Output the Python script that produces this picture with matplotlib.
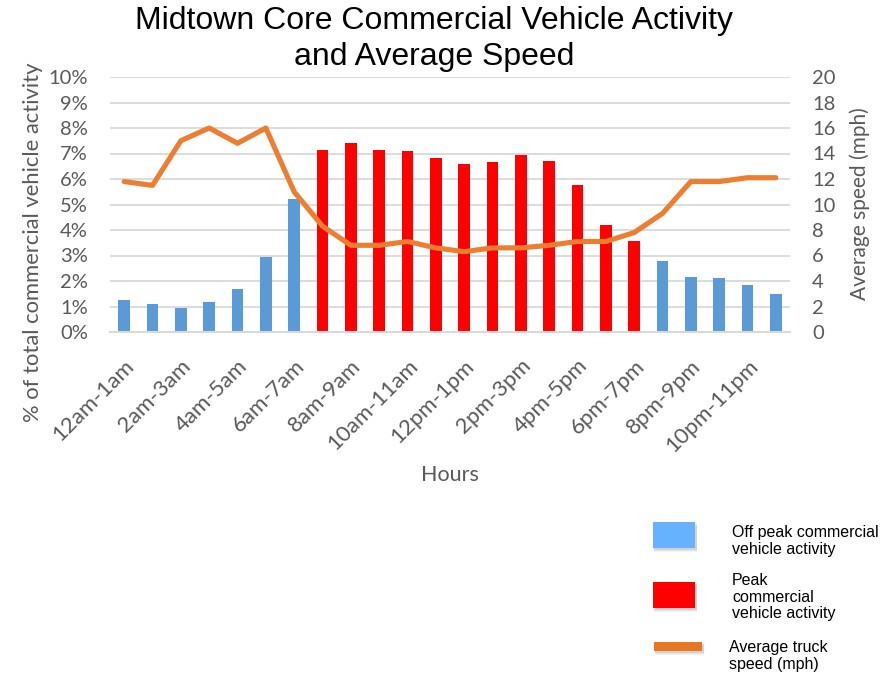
import numpy as np
import matplotlib
matplotlib.use('Agg')
import matplotlib.pyplot as plt
from matplotlib.patches import Rectangle

# Hourly share of commercial vehicle activity (%) and average truck speed (mph)
hours = ['12am-1am', '1am-2am', '2am-3am', '3am-4am', '4am-5am', '5am-6am',
         '6am-7am', '7am-8am', '8am-9am', '9am-10am', '10am-11am', '11am-12pm',
         '12pm-1pm', '1pm-2pm', '2pm-3pm', '3pm-4pm', '4pm-5pm', '5pm-6pm',
         '6pm-7pm', '7pm-8pm', '8pm-9pm', '9pm-10pm', '10pm-11pm', '11pm-12am']
activity = [1.25, 1.10, 0.94, 1.16, 1.67, 2.94, 5.23, 7.14, 7.41, 7.14, 7.10, 6.82,
            6.59, 6.67, 6.94, 6.71, 5.76, 4.20, 3.57, 2.78, 2.17, 2.10, 1.86, 1.49]
speed = [11.8, 11.5, 15.0, 16.0, 14.8, 16.0, 11.0, 8.3, 6.8, 6.8, 7.1, 6.6,
         6.3, 6.6, 6.6, 6.8, 7.1, 7.1, 7.8, 9.3, 11.8, 11.8, 12.1, 12.1]
peak = [False] * 7 + [True] * 12 + [False] * 5

W, H = 888, 675
BLUE = '#5B9BD5'
RED = '#FF0000'
ORANGE = '#ED7D31'
GRID = '#D9D9D9'
TXT = '#595959'

fig = plt.figure(figsize=(W / 100, H / 100), dpi=100)

def fx(px):
    return px / W

def fy(py):
    return 1 - py / H

ax = fig.add_axes([fx(110), fy(332), fx(790) - fx(110), fy(77) - fy(332)])
x = np.arange(len(hours))
colors = [RED if p else BLUE for p in peak]
ax.bar(x, activity, width=0.41, color=colors, zorder=2)
ax.set_xlim(-0.5, len(hours) - 0.5)
ax.set_ylim(0, 10)
ax.set_yticks(np.arange(0, 11, 1))
ax.set_yticklabels([f'{v}%' for v in range(11)])
ax.grid(axis='y', color=GRID, lw=1.3, zorder=0)
for s in ['top', 'right', 'left']:
    ax.spines[s].set_visible(False)
ax.spines['bottom'].set_color(GRID)
ax.spines['bottom'].set_linewidth(1.5)
ax.set_xticks(x[::2])
ax.set_xticklabels(hours[::2], rotation=45, ha='right', rotation_mode='anchor')
ax.tick_params(axis='both', length=0, labelcolor=TXT)
ax.tick_params(axis='y', pad=16, labelsize=14.5)
ax.tick_params(axis='x', pad=17, labelsize=16)
for lab in ax.get_xticklabels() + ax.get_yticklabels():
    lab.set_family('Lato')

ax2 = ax.twinx()
ax2.plot(x, speed, color=ORANGE, lw=3.7, solid_joinstyle='round', solid_capstyle='round', zorder=3)
ax2.set_ylim(0, 20)
ax2.set_yticks(np.arange(0, 21, 2))
for s in ['top', 'right', 'left', 'bottom']:
    ax2.spines[s].set_visible(False)
ax2.tick_params(axis='y', length=0, labelsize=14.5, labelcolor=TXT, pad=16)
for lab in ax2.get_yticklabels():
    lab.set_family('Lato')

# titles and axis labels
fig.text(fx(434), fy(39), 'Midtown Core Commercial Vehicle Activity\nand Average Speed',
         ha='center', va='center', fontsize=23, family='Liberation Sans',
         linespacing=1.25, color='black')
fig.text(fx(33), fy(242), '% of total commercial vehicle activity', rotation=90,
         ha='center', va='center', fontsize=15.8, family='Lato', color=TXT)
fig.text(fx(860), fy(204), 'Average speed (mph)', rotation=90,
         ha='center', va='center', fontsize=15, family='Lato', color=TXT)
fig.text(fx(450), fy(475), 'Hours', ha='center', va='center', fontsize=15.5,
         family='Lato', color=TXT)

# legend drawn below the plot on the right
def swatch(x0, y0, x1, y1, color):
    for k, a in [(4, 0.08), (3, 0.12), (2, 0.18)]:
        fig.add_artist(Rectangle((fx(x0 + 1), fy(y1 + k)), fx(x1 - x0 + 1), fy(y0) - fy(y1),
                                 transform=fig.transFigure, color='#7F7F7F', alpha=a, lw=0))
    fig.add_artist(Rectangle((fx(x0), fy(y1)), fx(x1 - x0), fy(y0) - fy(y1),
                             transform=fig.transFigure, color=color, lw=0))

swatch(653, 522, 695, 548, '#66B2FF')
swatch(653, 582, 695, 608, RED)
swatch(654, 642, 702, 651, '#E87722')

leg_kw = dict(ha='left', va='center', fontsize=11.5, family='Liberation Sans',
              color='black', linespacing=1.15)
fig.text(fx(732), fy(541), 'Off peak commercial\nvehicle activity', **leg_kw)
fig.text(fx(732), fy(597), 'Peak\ncommercial\nvehicle activity', **leg_kw)
fig.text(fx(729), fy(656), 'Average truck\nspeed (mph)', **leg_kw)

fig.savefig('out.png', dpi=100)
